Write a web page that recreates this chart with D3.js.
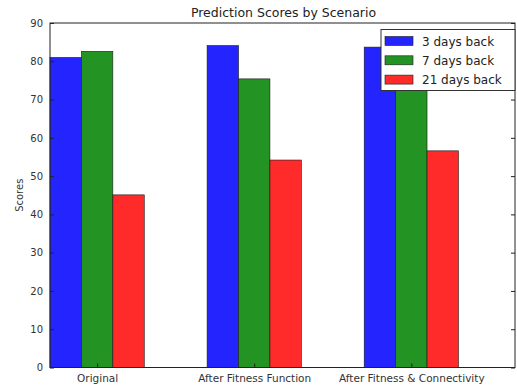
<!DOCTYPE html>
<html>
<head>
<meta charset="utf-8">
<script src="https://cdn.jsdelivr.net/npm/d3@7"></script>
<style>
  body { margin: 0; background: #fff; }
  svg { display: block; font-family: "DejaVu Sans", sans-serif; }
</style>
</head>
<body>
<svg id="chart" width="517" height="387"></svg>
<script>
// Scenarios and scores for each look-back window
const scenarios = ["Original", "After Fitness Function", "After Fitness & Connectivity"];
const seriesNames = ["3 days back", "7 days back", "21 days back"];
const scores3 = [81.0, 84.1, 83.7];
const scores7 = [82.6, 75.4, 77.0];
const scores21 = [45.1, 54.2, 56.6];
const yTicks = [0, 10, 20, 30, 40, 50, 60, 70, 80, 90];
const colors = ["#2424ff", "#239323", "#ff2a2a"];

const series = [scores3, scores7, scores21];
const barWidth = 0.2;

const svg = d3.select("#chart");
const m = { left: 50, right: 515, top: 23, bottom: 367.5 };

const x = d3.scaleLinear().domain([0, 2.96]).range([m.left, m.right]);
const y = d3.scaleLinear().domain([0, 90]).range([m.bottom, m.top]);

// bars
series.forEach((vals, si) => {
  svg.append("g").selectAll("rect")
    .data(vals)
    .join("rect")
    .attr("x", (d, i) => x(i + si * barWidth))
    .attr("width", x(barWidth) - x(0))
    .attr("y", d => y(d))
    .attr("height", d => y(0) - y(d))
    .attr("fill", colors[si])
    .attr("stroke", "#1a1a1a")
    .attr("stroke-width", 0.6);
});

// frame
svg.append("rect")
  .attr("x", m.left).attr("y", m.top)
  .attr("width", m.right - m.left).attr("height", m.bottom - m.top)
  .attr("fill", "none").attr("stroke", "#222").attr("stroke-width", 1);

// y axis (ticks inward, labels on the left)
const yAxis = d3.axisLeft(y).tickValues(yTicks).tickSize(-4).tickPadding(7);
const gy = svg.append("g").attr("transform", `translate(${m.left},0)`).call(yAxis);
gy.select(".domain").remove();
gy.selectAll("text").attr("font-size", 10).attr("fill", "#333").attr("font-family", "DejaVu Sans, sans-serif");
gy.selectAll("line").attr("stroke", "#222");

const yAxisR = d3.axisRight(y).tickValues(yTicks).tickSize(-4).tickFormat("");
const gyr = svg.append("g").attr("transform", `translate(${m.right},0)`).call(yAxisR);
gyr.select(".domain").remove();
gyr.selectAll("line").attr("stroke", "#222");

// x axis with category labels at group centers
const xAxis = d3.axisBottom(x)
  .tickValues(scenarios.map((s, i) => i + 1.5 * barWidth))
  .tickFormat((d, i) => scenarios[i])
  .tickSize(-4).tickPadding(7);
const gx = svg.append("g").attr("transform", `translate(0,${m.bottom})`).call(xAxis);
gx.select(".domain").remove();
gx.selectAll("text").attr("font-size", 10.5).attr("fill", "#333").attr("font-family", "DejaVu Sans, sans-serif");
gx.selectAll("line").attr("stroke", "#222");

// title
svg.append("text")
  .attr("x", (m.left + m.right) / 2 + 1).attr("y", 17)
  .attr("text-anchor", "middle").attr("font-size", 12.5).attr("fill", "#222")
  .text("Prediction Scores by Scenario");

// y label
svg.append("text")
  .attr("transform", `translate(23,${(m.top + m.bottom) / 2}) rotate(-90)`)
  .attr("text-anchor", "middle").attr("font-size", 10).attr("fill", "#333")
  .text("Scores");

// legend
const lg = svg.append("g").attr("transform", "translate(381,29.5)");
lg.append("rect").attr("width", 134).attr("height", 61)
  .attr("fill", "#fff").attr("stroke", "#333").attr("stroke-width", 1);
seriesNames.forEach((name, i) => {
  const row = lg.append("g").attr("transform", `translate(0,${11.5 + i * 19.3})`);
  row.append("rect").attr("x", 4).attr("y", -4.5).attr("width", 28).attr("height", 9)
    .attr("fill", colors[i]).attr("stroke", "#1a1a1a").attr("stroke-width", 0.6);
  row.append("text").attr("x", 41).attr("y", 4.5)
    .attr("font-size", 12).attr("fill", "#222").text(name);
});
</script>
</body>
</html>
